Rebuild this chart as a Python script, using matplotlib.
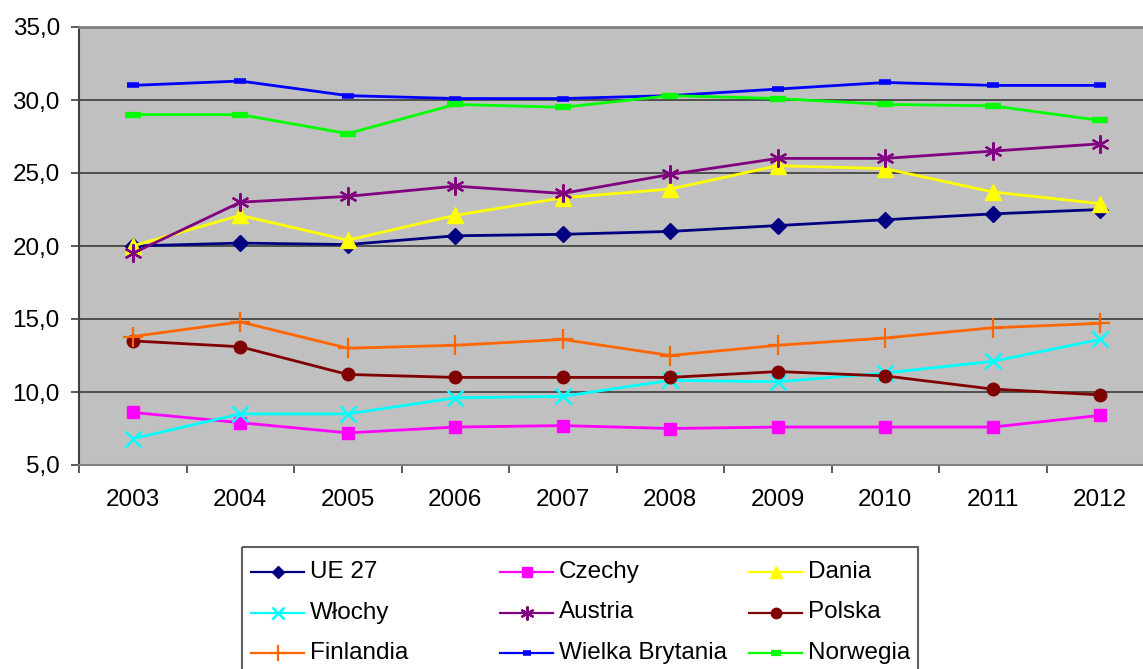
import matplotlib
matplotlib.use("Agg")
import matplotlib.pyplot as plt
from matplotlib.patches import Rectangle
from matplotlib.ticker import FuncFormatter, FixedLocator

years = ["2003", "2004", "2005", "2006", "2007", "2008", "2009", "2010", "2011", "2012"]

ue27 = [20.0, 20.2, 20.1, 20.7, 20.8, 21.0, 21.4, 21.8, 22.2, 22.5]
czechy = [8.6, 7.9, 7.2, 7.6, 7.7, 7.5, 7.6, 7.6, 7.6, 8.4]
dania = [20.0, 22.1, 20.4, 22.1, 23.3, 23.9, 25.5, 25.3, 23.7, 22.9]
wlochy = [6.8, 8.5, 8.5, 9.6, 9.7, 10.8, 10.7, 11.3, 12.1, 13.6]
austria = [19.5, 23.0, 23.4, 24.1, 23.6, 24.9, 26.0, 26.0, 26.5, 27.0]
polska = [13.5, 13.1, 11.2, 11.0, 11.0, 11.0, 11.4, 11.1, 10.2, 9.8]
finlandia = [13.8, 14.8, 13.0, 13.2, 13.6, 12.5, 13.2, 13.7, 14.4, 14.7]
wielka_brytania = [31.0, 31.3, 30.3, 30.1, 30.1, 30.3, 30.75, 31.2, 31.0, 31.0]
norwegia = [29.0, 29.0, 27.7, 29.7, 29.5, 30.3, 30.1, 29.7, 29.6, 28.6]

plt.rcParams['font.family'] = ['Liberation Sans', 'DejaVu Sans']
FS = 17.5

W, H = 1143, 669
fig = plt.figure(figsize=(W / 100, H / 100), dpi=100)
ax = fig.add_axes([79 / W, 1 - 465 / H, 1075 / W, 438 / H])
ax.set_facecolor('#C0C0C0')

x = list(range(len(years)))

# name, values, colour, marker, plot marker size, legend marker size, edge width
series = [
    ("UE 27", ue27, '#000080', 'D', 8, 6.5, 1.0),
    ("Czechy", czechy, '#FF00FF', 's', 9, 7, 1.0),
    ("Dania", dania, '#FFFF00', '^', 11, 9, 1.0),
    ("Włochy", wlochy, '#00FFFF', 'x', 11, 8, 1.8),
    ("Austria", austria, '#800080', (6, 2, 0), 13, 10, 1.6),
    ("Polska", polska, '#800000', 'o', 9, 7.5, 1.0),
    ("Finlandia", finlandia, '#FF6600', '+', 14, 11, 1.6),
    ("Wielka Brytania", wielka_brytania, '#0000FF', '_', 9, 6, 4.0),
    ("Norwegia", norwegia, '#00FF00', '_', 11, 7, 4.5),
]

for name, vals, col, mk, ms, _, mew in series:
    ax.plot(x, vals, lw=2, color=col, marker=mk, ms=ms, mew=mew,
            mfc=col, mec=col, label=name, zorder=3)

ax.set_xlim(-0.5, len(years) - 0.5)
ax.set_ylim(5, 35)
ax.set_yticks([5, 10, 15, 20, 25, 30, 35])
ax.yaxis.set_major_formatter(FuncFormatter(lambda v, p: f"{v:.1f}".replace('.', ',')))
ax.set_xticks(x)
ax.set_xticklabels(years)
ax.xaxis.set_minor_locator(FixedLocator([i - 0.5 for i in range(len(years) + 1)]))
ax.tick_params(axis='x', which='major', length=0, pad=17, labelsize=FS)
ax.tick_params(axis='x', which='minor', length=5.8, width=1.2, color='#404040', direction='out')
ax.tick_params(axis='y', length=5.8, width=1.2, color='#404040', direction='out', pad=8, labelsize=FS)

ax.yaxis.grid(True, color='#303030', lw=1.1, zorder=1)
ax.set_axisbelow(True)

ax.spines['left'].set_color('#404040')
ax.spines['left'].set_linewidth(1.5)
ax.spines['bottom'].set_color('#808080')
ax.spines['bottom'].set_linewidth(1.5)
ax.spines['top'].set_color('#808080')
ax.spines['top'].set_linewidth(2)
ax.spines['right'].set_visible(False)

# Legend drawn on a pixel-space overlay: three fixed-width columns, row-major order
lax = fig.add_axes([0, 0, 1, 1])
lax.set_xlim(0, W)
lax.set_ylim(H, 0)
lax.axis('off')
lax.add_patch(Rectangle((242, 547), 918 - 242, 140, fill=False,
                        edgecolor='#606060', lw=1.5))
col_x0 = 251
col_pitch = 249
row_y0 = 572
row_pitch = 40.5
handle_len = 53
for i, (name, vals, col, mk, _, lms, mew) in enumerate(series):
    c, r = i % 3, i // 3
    x0 = col_x0 + c * col_pitch
    y0 = row_y0 + r * row_pitch
    lax.plot([x0, x0 + handle_len], [y0, y0], color=col, lw=1.6)
    lax.plot([x0 + handle_len / 2], [y0], color=col, marker=mk, ms=lms,
             mew=mew if mew > 1.0 else 1.0, mfc=col, mec=col)
    lax.text(x0 + handle_len + 6, y0, name, fontsize=FS, va='center', ha='left')

fig.savefig("out.png", dpi=100, facecolor='white')
